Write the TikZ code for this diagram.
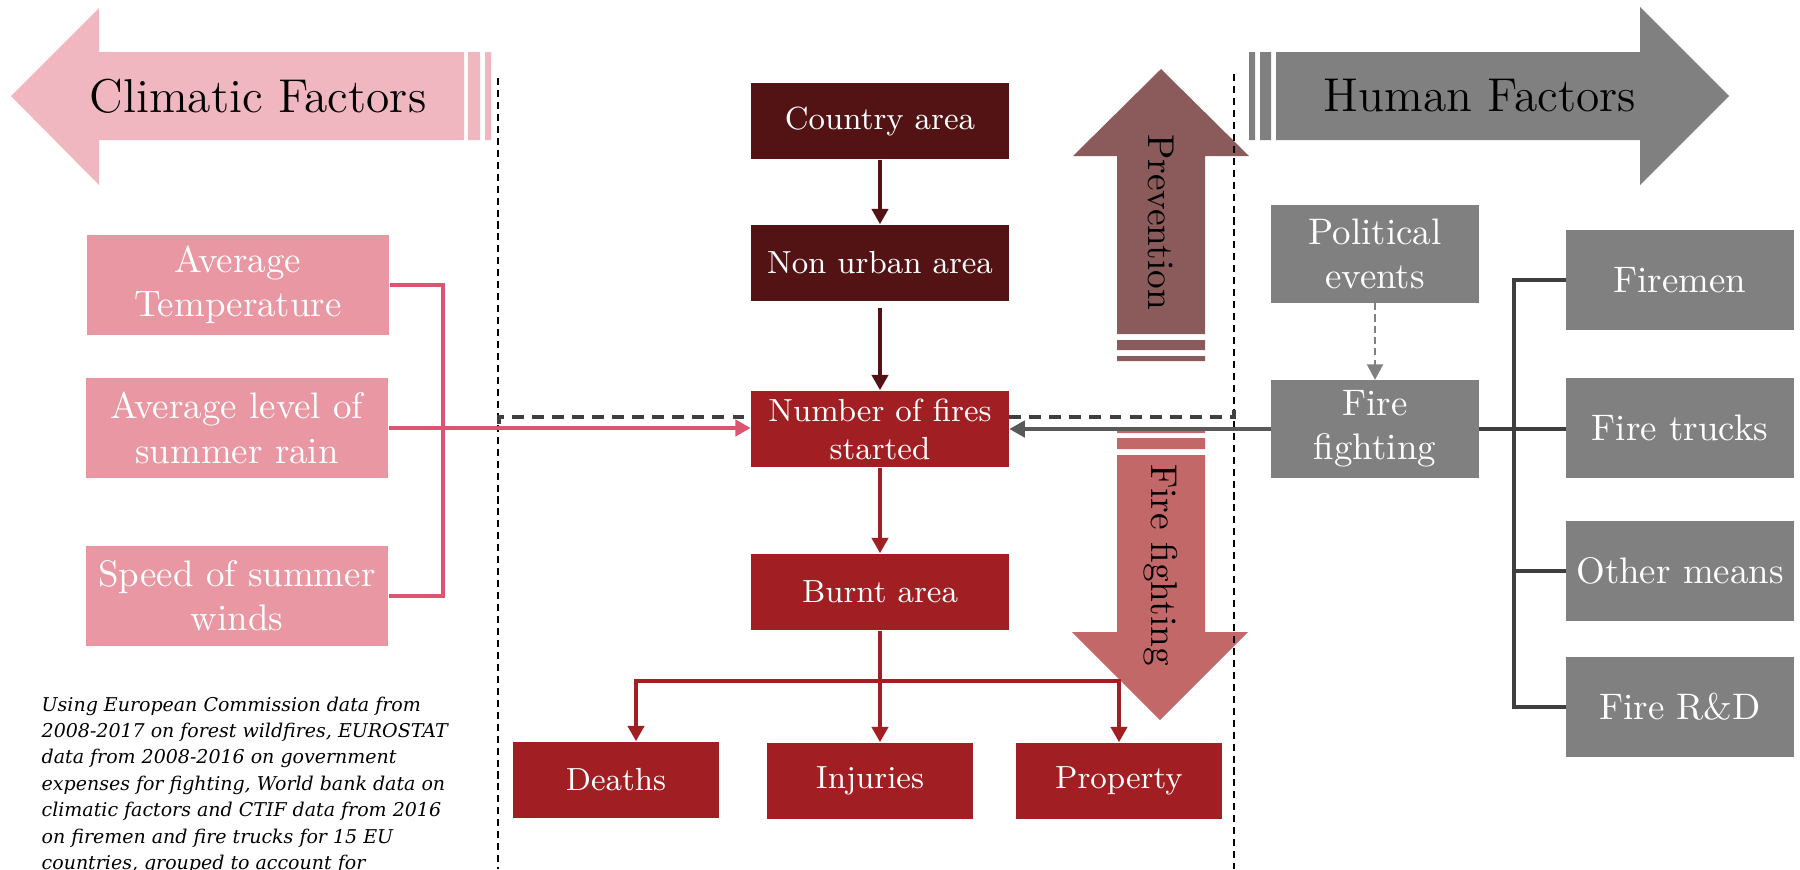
\documentclass[tikz,border=0pt]{standalone}
\usepackage{fontspec}
\usepackage{tikz}
\usetikzlibrary{arrows.meta}
\newfontfamily\notefont{DejaVu Serif}

\definecolor{climarrow}{HTML}{F0B7C0}
\definecolor{climfill}{HTML}{E897A3}
\definecolor{climline}{HTML}{DC5470}
\definecolor{maroon}{HTML}{531213}
\definecolor{firered}{HTML}{A11F22}
\definecolor{prevcol}{HTML}{8B5A5A}
\definecolor{fightcol}{HTML}{C26868}
\definecolor{humangray}{HTML}{808080}
\definecolor{busgray}{HTML}{3F3F3F}
\definecolor{arrgray}{HTML}{595959}

\tikzset{
  midbox/.style={rectangle, text=white, inner sep=0pt, minimum width=2.57cm,
    minimum height=0.76cm, align=center, font={\fontsize{9.1}{10.8}\selectfont}},
  topbox/.style={midbox, fill=maroon},
  firebox/.style={midbox, fill=firered},
  outbox/.style={firebox, minimum width=2.05cm},
  sidebox/.style={rectangle, text=white, inner sep=0pt, align=center,
    font={\fontsize{10.5}{12.6}\selectfont}},
  climfactor/.style={sidebox, fill=climfill, minimum width=3.02cm, minimum height=0.99cm},
  humanfactor/.style={sidebox, fill=humangray, minimum width=2.07cm, minimum height=0.97cm},
  meansbox/.style={sidebox, fill=humangray, minimum width=2.27cm, minimum height=0.99cm},
  biglabel/.style={inner sep=0pt, font={\fontsize{13.5}{16}\selectfont}},
  sidelabel/.style={inner sep=0pt, rotate=-90, font={\fontsize{10.6}{12}\selectfont}},
  note/.style={inner sep=0pt, anchor=north west, align=left,
    font={\notefont\fontsize{5.4}{7.5}\selectfont\itshape}},
  divider/.style={black, line width=0.45pt, dash pattern=on 2pt off 1.4pt},
  boxdash/.style={busgray, line width=0.9pt, dash pattern=on 3.4pt off 2.3pt},
  maroonline/.style={maroon, line width=1.1pt},
  redline/.style={firered, line width=1.1pt},
  climconn/.style={climline, line width=1.1pt},
  grayconn/.style={arrgray, line width=1.2pt},
  busline/.style={busgray, line width=1.1pt},
  polidash/.style={humangray, line width=0.45pt, dash pattern=on 2pt off 1.2pt}
}

\begin{document}
\begin{tikzpicture}[x=0.01cm, y=-0.01cm, >={Triangle[width=4.6pt,length=4.4pt]}]
\useasboundingbox (0,0) rectangle (1800,869);
\clip (0,0) rectangle (1800,869);

% big arrows
\fill[climarrow] (11,96) -- (99,8) -- (99,52) -- (464,52) -- (464,140) -- (99,140) -- (99,185) -- cycle;
\fill[climarrow] (468,52) rectangle (480,140) (485,52) rectangle (491,140);
\node[biglabel] (climlabel) at (258,96) {Climatic Factors};

\fill[humangray] (1249,52) rectangle (1255,140) (1260,52) rectangle (1271,140);
\fill[humangray] (1276,52) -- (1640,52) -- (1640,7) -- (1729,96) -- (1640,185) -- (1640,140) -- (1276,140) -- cycle;
\node[biglabel] (humlabel) at (1480,96) {Human Factors};

\fill[prevcol] (1161,69) -- (1249,156) -- (1205,156) -- (1205,334) -- (1117,334) -- (1117,156) -- (1073,156) -- cycle;
\fill[prevcol] (1117,340) rectangle (1205,350) (1117,356) rectangle (1205,361);
\node[sidelabel] (prevlabel) at (1161,222) {Prevention};

\fill[fightcol] (1117,429) rectangle (1205,433) (1117,438) rectangle (1205,449);
\fill[fightcol] (1117,455) -- (1205,455) -- (1205,632) -- (1248,632) -- (1160,720) -- (1072,632) -- (1117,632) -- cycle;
\node[sidelabel] (fightlabel) at (1161,565) {Fire fighting};

% dividers
\draw[divider] (498,78) -- (498,869);
\draw[divider] (1234,74) -- (1234,869);

% middle column
\node[topbox] (country) at (880,121) {Country area};
\node[topbox] (nonurban) at (880,263) {Non urban area};
\node[firebox] (fires) at (880,429) {Number of fires\\started};
\node[firebox] (burnt) at (880,592) {Burnt area};
\node[outbox] (deaths) at (616,780) {Deaths};
\node[outbox] (injuries) at (870,781) {Injuries};
\node[outbox] (property) at (1119,781) {Property};

% climatic factors
\node[climfactor] (temp) at (238,285) {Average\\Temperature};
\node[climfactor] (rain) at (237,428) {Average level of\\summer rain};
\node[climfactor] (wind) at (237,596) {Speed of summer\\winds};

% human factors
\node[humanfactor] (political) at (1375,254) {Political\\events};
\node[humanfactor] (fight) at (1375,429) {Fire\\fighting};
\node[meansbox] (firemen) at (1680,280) {Firemen};
\node[meansbox] (trucks) at (1680,428) {Fire trucks};
\node[meansbox] (othermeans) at (1680,571) {Other means};
\node[meansbox] (rnd) at (1680,707) {Fire R\&D};

\node[note] (note) at (41,696) {Using European Commission data from\\
2008-2017 on forest wildfires, EUROSTAT\\
data from 2008-2016 on government\\
expenses for fighting, World bank data on\\
climatic factors and CTIF data from 2016\\
on firemen and fire trucks for 15 EU\\
countries, grouped to account for};

% connectors
\coordinate (dashL) at (499,417);
\coordinate (dashR) at (1234,417);
\draw[boxdash] ([yshift=-0.07cm]dashL) -- (dashL) -- (dashL -| fires.west);
\draw[boxdash] (dashL -| fires.east) -- (dashR) -- ([yshift=0.07cm]dashR);

\draw[maroonline,->] (country) -- (nonurban);
\draw[maroonline,->,shorten <=1.7pt] (nonurban) -- (fires);
\draw[redline,->] (fires) -- (burnt);
\coordinate (split) at (880,681);
\draw[redline] (burnt) -- (split);
\draw[redline,->] (split) -| ([xshift=0.2cm]deaths.north);
\draw[redline,->] (split) -| (property.north);
\draw[redline,->] (split) -- (split |- injuries.north);

\draw[climconn] (temp.east) -- ++(53,0) |- (wind.east);
\draw[climconn,->] (rain.east) -- (rain.east -| fires.west);

\draw[grayconn,->] (fight) -- (fires);
\draw[polidash,->] (political) -- (fight);
\draw[busline] (firemen.west) -- ++(-52,0) |- (rnd.west);
\draw[busline] (fight.east) -- (fight.east -| trucks.west);
\draw[busline] (othermeans.west) -- ++(-52,0);
\end{tikzpicture}
\end{document}
